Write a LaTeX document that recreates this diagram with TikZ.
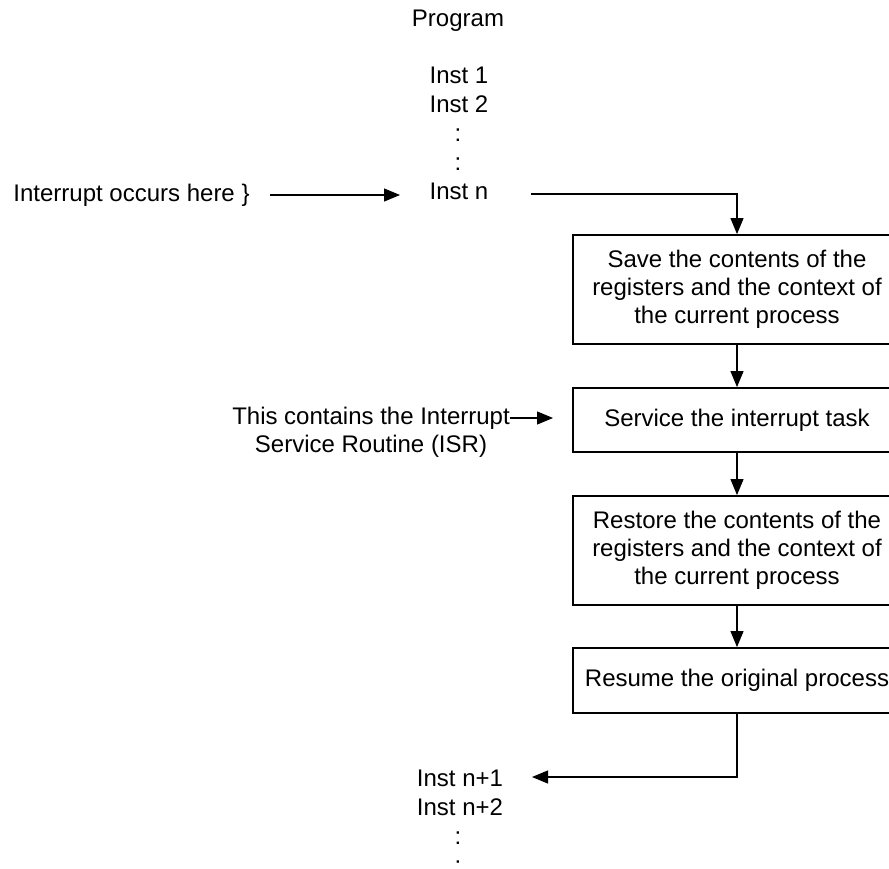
\documentclass[tikz,border=0pt]{standalone}
\usepackage{fontspec}
\setmainfont{Liberation Sans}
\usetikzlibrary{arrows.meta}
\begin{document}
\begin{tikzpicture}[x=1pt,y=-1pt,
  every node/.style={font=\fontsize{24}{28}\selectfont, inner sep=0pt},
  lbl/.style={anchor=base},
  procbox/.style={draw, line width=1.8pt, minimum width=328pt, align=center},
  conn/.style={line width=1.1pt, -{Triangle[length=16pt,width=13pt]}},
  plainline/.style={line width=1.1pt}]
\useasboundingbox (0,0) rectangle (889,869);
\clip (0,0) rectangle (889,869);
% program column
\node[lbl] (prog) at (458,27) {Program};
\node[lbl] (i1) at (459,84) {Inst 1};
\node[lbl] (i2) at (459,113) {Inst 2};
\node[lbl] (d1) at (458,142) {:};
\node[lbl] (d2) at (458,171) {:};
\node[lbl] (instn) at (459,200) {Inst n};
\node[lbl] (in1) at (460,786) {Inst n+1};
\node[lbl] (in2) at (460,815) {Inst n+2};
\node[lbl] (d3) at (458,844) {:};
\node[lbl] (d4) at (458,873) {:};
% left labels
\node[lbl] (intr) at (131.5,202) {Interrupt occurs here \}};
\node[align=center] (isr) at (371,432) {This contains the Interrupt\\Service Routine (ISR)};
% boxes
\node[procbox, minimum height=109pt] (save) at (737,289.5) {Save the contents of the\\registers and the context of\\the current process};
\node[procbox, minimum height=64pt] (serv) at (737,420) {Service the interrupt task};
\node[procbox, minimum height=109pt] (rest) at (737,550.5) {Restore the contents of the\\registers and the context of\\the current process};
\node[procbox, minimum height=65pt] (resume) at (737,680.5) {Resume the original process};
% connectors
\coordinate (ia) at (270,195);
\coordinate (ib) at (400,195);
\draw[conn] (ia) -- (ib);
\coordinate (ns) at (531,194);
\draw[conn] (ns) -| (save.north);
\coordinate (isra) at (510,418);
\coordinate (isrb) at (553,418);
\draw[conn] (isra) -- (isrb);
\draw[conn] (save.south) -- (serv.north);
\draw[conn] (serv.south) -- (rest.north);
\draw[conn] (rest.south) -- (resume.north);
\coordinate (ret) at (532,777);
\draw[conn] (resume.south) |- (ret);
\end{tikzpicture}
\end{document}
